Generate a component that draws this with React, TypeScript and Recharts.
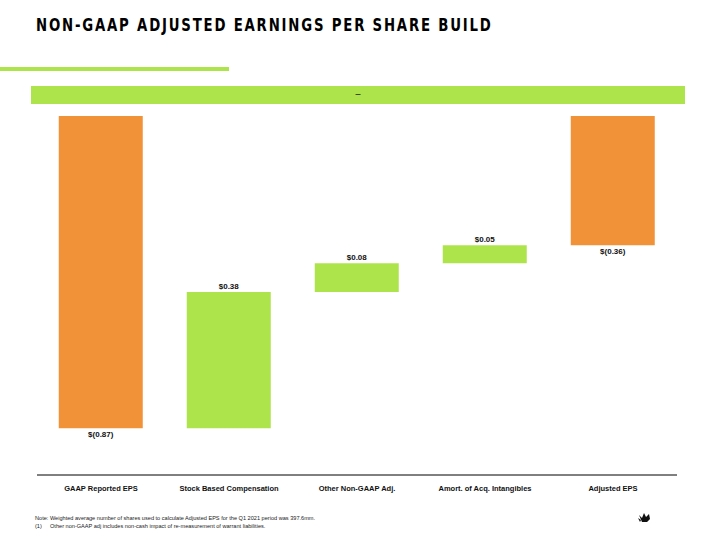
import React from 'react';
import { BarChart, Bar, XAxis, YAxis, LabelList, Cell } from 'recharts';

const categories = ['GAAP Reported EPS', 'Stock Based Compensation', 'Other Non-GAAP Adj.', 'Amort. of Acq. Intangibles', 'Adjusted EPS'];
const starts = [0, -0.87, -0.49, -0.41, 0];
const ends = [-0.87, -0.49, -0.41, -0.36, -0.36];
const valueLabels = ['$(0.87)', '$0.38', '$0.08', '$0.05', '$(0.36)'];
const isTotal = [true, false, false, false, true];

const ORANGE = '#F29238';
const GREEN = '#AEE44B';

const data = categories.map((name, i) => ({
  name,
  range: [starts[i], ends[i]],
  label: valueLabels[i],
  total: isTotal[i],
}));

const ValueLabel = (props: any) => {
  const { x, y, width, height, index } = props;
  const top = Math.min(y, y + height);
  const bottom = Math.max(y, y + height);
  const cx = x + width / 2;
  const total = isTotal[index];
  return (
    <text
      x={cx}
      y={total ? bottom + 9 : top - 3}
      textAnchor="middle"
      fontFamily="Liberation Sans, Arial, sans-serif"
      fontWeight="bold"
      fontSize={8}
      fill="#111"
    >
      {valueLabels[index]}
    </text>
  );
};

const Tick = (props: any) => {
  const { x, y, payload } = props;
  return (
    <text x={x} y={y + 8} textAnchor="middle" fontFamily="Liberation Sans, Arial, sans-serif" fontWeight="bold" fontSize={7.5} fill="#111">
      {payload.value}
    </text>
  );
};

export default function App() {
  return (
    <div style={{ position: 'fixed', left: 0, top: 0, width: 720, height: 540, background: '#fff', overflow: 'hidden' }}>
      <div
        style={{
          position: 'absolute',
          left: 36,
          top: 14,
          fontFamily: 'DejaVu Sans Condensed, DejaVu Sans, sans-serif',
          fontWeight: 'bold',
          fontSize: 18,
          letterSpacing: 2.2,
          color: '#000',
          whiteSpace: 'nowrap',
          transform: 'scaleX(0.82)',
          transformOrigin: 'left top',
        }}
      >
        NON-GAAP ADJUSTED EARNINGS PER SHARE BUILD
      </div>
      <div style={{ position: 'absolute', left: 0, top: 67, width: 229, height: 4, background: GREEN }} />
      <div
        style={{
          position: 'absolute',
          left: 31,
          top: 86,
          width: 654,
          height: 18,
          background: GREEN,
          textAlign: 'center',
          fontFamily: 'Liberation Sans, Arial, sans-serif',
          fontSize: 9,
          lineHeight: '16px',
          color: '#000',
        }}
      >
        –
      </div>
      <div style={{ position: 'absolute', left: 0, top: 0 }}>
        <BarChart width={720} height={540} data={data} margin={{ top: 116, right: 43, bottom: 35, left: 37 }} barCategoryGap="17%">
          <XAxis dataKey="name" axisLine={{ stroke: '#000', strokeWidth: 1 }} tickLine={false} tick={<Tick />} height={30} interval={0} />
          <YAxis hide domain={[-1, 0]} />
          <Bar dataKey="range" isAnimationActive={false}>
            {data.map((d, i) => (
              <Cell key={i} fill={d.total ? ORANGE : GREEN} />
            ))}
            <LabelList dataKey="label" content={<ValueLabel />} />
          </Bar>
        </BarChart>
      </div>
      <div
        style={{
          position: 'absolute',
          left: 35,
          top: 514,
          fontFamily: 'Liberation Sans, Arial, sans-serif',
          fontSize: 5.6,
          lineHeight: '8px',
          color: '#222',
          whiteSpace: 'nowrap',
        }}
      >
        <div>Note: Weighted average number of shares used to calculate Adjusted EPS for the Q1 2021 period was 397.6mm.</div>
        <div>
          <span style={{ display: 'inline-block', width: 15 }}>(1)</span>Other non-GAAP adj includes non-cash impact of re-measurement of warrant liabilities.
        </div>
      </div>
      <svg style={{ position: 'absolute', left: 638, top: 512 }} width={14} height={12} viewBox="0 0 14 12">
        <path d="M1 3 L4 6 L6 1 L8 5 L11 2 L12 7 L9 10 L4 10 Z" fill="#111" />
        <path d="M0 6 L3 8 L2 10 Z" fill="#111" />
      </svg>
    </div>
  );
}
